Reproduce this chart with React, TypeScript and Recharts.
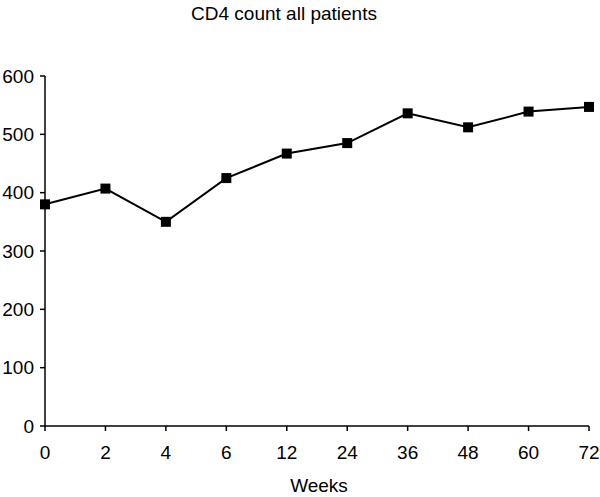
import React from 'react';
import { LineChart, Line, XAxis, YAxis } from 'recharts';

const weeks = ['0', '2', '4', '6', '12', '24', '36', '48', '60', '72'];
const cd4 = [380, 407, 350, 425, 467, 485, 536, 512, 539, 547];
const yTicks = [0, 100, 200, 300, 400, 500, 600];

const data = weeks.map((w, i) => ({ week: w, cd4: cd4[i] }));

const SquareDot = (props: any) => {
  const { cx, cy } = props;
  if (cx == null || cy == null) return null;
  return <rect x={cx - 5} y={cy - 5} width={10} height={10} fill="#000" />;
};

const font = '"Liberation Sans", Arial, sans-serif';

export default function App() {
  return (
    <div style={{ position: 'absolute', left: 0, top: 0, width: 600, height: 497, background: '#fff', fontFamily: font }}>
      <LineChart width={600} height={497} data={data} margin={{ top: 76, right: 11, bottom: 41, left: 0 }}>
        <XAxis
          dataKey="week"
          type="category"
          padding={{ left: 0, right: 0 }}
          axisLine={{ stroke: '#000', strokeWidth: 1.5 }}
          tickLine={{ stroke: '#000', strokeWidth: 1.5 }}
          tickSize={5}
          tickMargin={15}
          height={30}
          interval={0}
          tick={{ fill: '#000', fontSize: 19, fontFamily: font }}
        />
        <YAxis
          domain={[0, 600]}
          ticks={yTicks}
          width={45}
          axisLine={{ stroke: '#000', strokeWidth: 1.5 }}
          tickLine={{ stroke: '#000', strokeWidth: 1.5 }}
          tickSize={5}
          tickMargin={6}
          interval={0}
          tick={{ fill: '#000', fontSize: 19, fontFamily: font }}
        />
        <Line
          dataKey="cd4"
          stroke="#000"
          strokeWidth={2}
          dot={<SquareDot />}
          activeDot={false}
          isAnimationActive={false}
          type="linear"
        />
      </LineChart>
      <svg width={600} height={497} style={{ position: 'absolute', left: 0, top: 0, pointerEvents: 'none' }}>
        <text x={284} y={20} textAnchor="middle" fontSize={19} fontFamily={font} fill="#000">
          CD4 count all patients
        </text>
        <text x={319} y={492} textAnchor="middle" fontSize={19} fontFamily={font} fill="#000">
          Weeks
        </text>
      </svg>
    </div>
  );
}
